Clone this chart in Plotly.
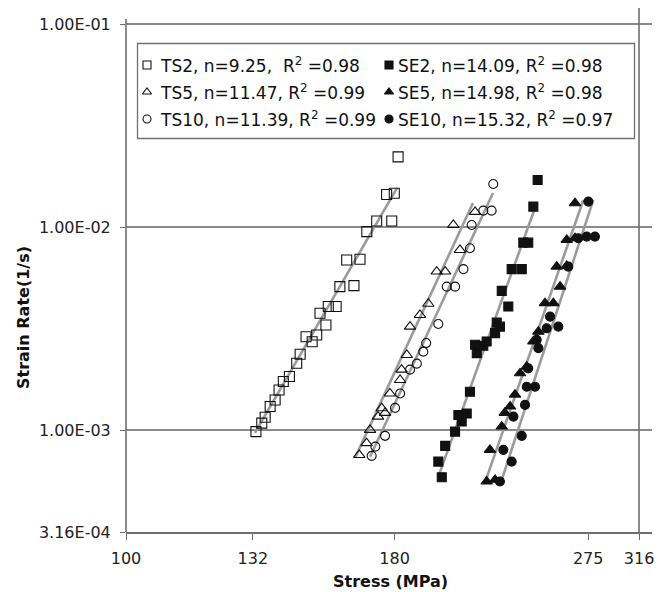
import plotly.graph_objects as go

# ---------------- data ----------------
ts2_stress = [132.9, 134.6, 135.6, 137.1, 138.6, 139.8, 141.1, 143.0, 145.3, 146.4, 148.3, 150.3,
              151.8, 154.9, 152.9, 155.7, 158.4, 159.7, 164.7, 162.1, 166.9, 169.4, 173.1, 178.9,
              176.9, 179.9, 181.4]
ts2_rate = [9.86e-4, 1.085e-3, 1.16e-3, 1.31e-3, 1.41e-3, 1.58e-3, 1.74e-3, 1.84e-3, 2.14e-3, 2.37e-3,
            2.89e-3, 2.73e-3, 2.95e-3, 3.30e-3, 3.77e-3, 4.07e-3, 4.07e-3, 5.10e-3, 5.16e-3, 6.90e-3,
            6.96e-3, 9.51e-3, 1.074e-2, 1.074e-2, 1.45e-2, 1.47e-2, 2.22e-2]

ts5_stress = [166.6, 169.3, 170.6, 173.6, 175.0, 176.3, 178.2, 182.2, 182.8, 184.9, 186.2, 190.3,
              193.8, 197.4, 201.1, 207.7, 204.7, 214.7]
ts5_rate = [7.57e-4, 8.65e-4, 1.006e-3, 1.169e-3, 1.286e-3, 1.22e-3, 1.52e-3, 1.77e-3, 1.99e-3,
            2.35e-3, 3.24e-3, 3.70e-3, 4.20e-3, 6.05e-3, 6.05e-3, 7.73e-3, 1.026e-2, 1.19e-2]

ts10_stress = [171.2, 172.6, 176.3, 180.2, 182.2, 186.2, 189.0, 191.7, 192.9, 198.1, 201.8, 205.5,
               209.3, 212.3, 213.1, 218.6, 222.6, 223.4]
ts10_rate = [7.49e-4, 8.32e-4, 9.40e-4, 1.29e-3, 1.52e-3, 1.99e-3, 2.13e-3, 2.44e-3, 2.69e-3,
             3.34e-3, 5.10e-3, 5.10e-3, 6.22e-3, 7.88e-3, 1.026e-2, 1.207e-2, 1.207e-2, 1.633e-2]

se2_stress = [199.6, 198.1, 201.1, 205.5, 208.5, 207.0, 210.8, 212.3, 215.5, 214.7, 218.6, 220.2,
              224.3, 225.1, 226.7, 230.9, 227.6, 232.6, 237.8, 238.6, 241.2, 243.9, 246.2]
se2_rate = [5.88e-4, 7.02e-4, 8.39e-4, 9.86e-4, 1.105e-3, 1.19e-3, 1.21e-3, 1.55e-3, 2.40e-3,
            2.64e-3, 2.61e-3, 2.74e-3, 3.01e-3, 3.39e-3, 3.24e-3, 4.07e-3, 4.86e-3, 6.22e-3,
            6.22e-3, 8.40e-3, 8.40e-3, 1.263e-2, 1.709e-2]

se5_stress = [220.2, 224.3, 221.8, 227.6, 229.1, 231.8, 234.3, 236.9, 240.4, 243.9, 246.6, 250.2,
              254.8, 258.6, 256.7, 262.4, 262.4, 267.2, 267.2]
se5_rate = [5.60e-4, 5.71e-4, 8.02e-4, 1.044e-3, 1.22e-3, 1.31e-3, 1.50e-3, 1.91e-3, 2.06e-3,
            2.74e-3, 3.06e-3, 4.23e-3, 4.23e-3, 5.10e-3, 6.40e-3, 6.45e-3, 8.66e-3, 8.83e-3, 1.313e-2]

se10_stress = [226.7, 232.6, 228.4, 237.8, 233.5, 239.5, 240.4, 244.8, 241.2, 246.6, 245.7, 251.1,
               257.6, 253.0, 263.3, 269.1, 274.1, 279.1, 275.1]
se10_rate = [5.60e-4, 7.02e-4, 8.02e-4, 9.40e-4, 1.169e-3, 1.335e-3, 1.64e-3, 1.64e-3, 2.02e-3,
             2.54e-3, 2.79e-3, 3.18e-3, 3.24e-3, 3.63e-3, 6.40e-3, 8.83e-3, 8.99e-3, 8.99e-3, 1.337e-2]

# power-law fit lines (end points)
fit_ts2_stress, fit_ts2_rate = [132.6, 181.0], [9.72e-4, 1.561e-2]
fit_ts5_stress, fit_ts5_rate = [165.1, 213.7], [7.32e-4, 1.317e-2]
fit_ts10_stress, fit_ts10_rate = [170.6, 223.3], [7.41e-4, 1.475e-2]
fit_se2_stress, fit_se2_rate = [198.1, 245.7], [5.92e-4, 1.313e-2]
fit_se5_stress, fit_se5_rate = [219.4, 272.1], [5.53e-4, 1.362e-2]
fit_se10_stress, fit_se10_rate = [227.6, 278.1], [5.71e-4, 1.362e-2]

legend_labels = [
    "TS2, n=9.25, \u00a0R<sup>2</sup> =0.98",
    "TS5, n=11.47, R<sup>2</sup> =0.99",
    "TS10, n=11.39, R<sup>2</sup> =0.99",
    "SE2, n=14.09, R<sup>2</sup> =0.98",
    "SE5, n=14.98, R<sup>2</sup> =0.98",
    "SE10, n=15.32, R<sup>2</sup> =0.97",
]

x_title = "Stress (MPa)"
y_title = "Strain Rate(1/s)"
x_tickvals = [100, 132, 180, 275, 307.4]
x_ticktext = ["100", "132", "180", "275", "316"]
y_tickvals = [3.16e-4, 1e-3, 1e-2, 1e-1]
y_ticktext = ["3.16E-04", "1.00E-03", "1.00E-02", "1.00E-01"]

# ---------------- figure ----------------
FONT = "DejaVu Sans"
LINE_GREY = "#9b9b9b"
AX_GREY = "#6e6e6e"
W, H = 670, 592
L, R, T, B = 126, 18, 8, 60
PW, PH = W - L - R, H - T - B


def paper_x(px):
    return (px - L) / PW


def paper_y(py):
    return (H - B - py) / PH


fig = go.Figure()

fits = [(fit_ts2_stress, fit_ts2_rate), (fit_ts5_stress, fit_ts5_rate), (fit_ts10_stress, fit_ts10_rate),
        (fit_se2_stress, fit_se2_rate), (fit_se5_stress, fit_se5_rate), (fit_se10_stress, fit_se10_rate)]
for fx, fy in fits:
    fig.add_trace(go.Scatter(x=fx, y=fy, mode="lines", line=dict(color=LINE_GREY, width=2.6),
                             showlegend=False, hoverinfo="skip"))

series = [
    (ts2_stress, ts2_rate, "square-open", 10),
    (ts5_stress, ts5_rate, "triangle-up-open", 10),
    (ts10_stress, ts10_rate, "circle-open", 9),
    (se2_stress, se2_rate, "square", 9),
    (se5_stress, se5_rate, "triangle-up", 10),
    (se10_stress, se10_rate, "circle", 9),
]
for sx, sy, sym, sz in series:
    fig.add_trace(go.Scatter(x=sx, y=sy, mode="markers",
                             marker=dict(symbol=sym, size=sz, color="#111111",
                                         line=dict(width=1.1, color="#111111")),
                             showlegend=False))

# overlay axes in pixel units for the hand-built legend
leg_sym = ["square-open", "triangle-up-open", "circle-open", "square", "triangle-up", "circle"]
leg_x = [147, 147, 147, 389, 389, 389]
leg_y = [65, 92, 119, 65, 92, 119]
txt_x = [158, 158, 158, 396, 396, 396]
fig.add_trace(go.Scatter(x=leg_x, y=leg_y, mode="markers", xaxis="x2", yaxis="y2",
                         marker=dict(symbol=leg_sym, size=8, color="#111111",
                                     line=dict(width=1.1, color="#111111")),
                         showlegend=False, hoverinfo="skip"))

annotations = []
for lab, tx, ty in zip(legend_labels, txt_x, leg_y):
    annotations.append(dict(x=paper_x(tx), y=paper_y(ty), xref="paper", yref="paper", text=lab,
                            showarrow=False, xanchor="left", yanchor="middle",
                            font=dict(family=FONT, size=17, color="#111111")))
annotations.append(dict(x=paper_x(24), y=paper_y(318), xref="paper", yref="paper",
                        text="<b>" + y_title + "</b>", textangle=-90, showarrow=False,
                        xanchor="center", yanchor="middle",
                        font=dict(family=FONT, size=16, color="#111111")))
annotations.append(dict(x=paper_x(390), y=paper_y(581), xref="paper", yref="paper",
                        text="<b>" + x_title + "</b>", showarrow=False,
                        xanchor="center", yanchor="middle",
                        font=dict(family=FONT, size=16, color="#111111")))

shapes = [
    dict(type="rect", xref="paper", yref="paper", x0=paper_x(137.5), x1=paper_x(634.5),
         y0=paper_y(138.5), y1=paper_y(43.5),
         line=dict(color="#707070", width=1.3), fillcolor="rgba(0,0,0,0)", layer="below"),
    dict(type="line", xref="paper", yref="paper", x0=paper_x(639), x1=paper_x(639), y0=0, y1=1,
         line=dict(color=AX_GREY, width=1.6)),
    dict(type="line", xref="paper", yref="paper", x0=0, x1=0, y0=0, y1=paper_y(19),
         line=dict(color=AX_GREY, width=1.6)),
]

fig.update_layout(
    width=W, height=H,
    margin=dict(l=L, r=R, t=T, b=B, pad=0),
    paper_bgcolor="white", plot_bgcolor="white",
    showlegend=False,
    xaxis=dict(type="log", range=[2, 2.5], tickmode="array", tickvals=x_tickvals,
               ticktext=x_ticktext, ticks="outside", ticklen=6, tickwidth=1.4, tickcolor=AX_GREY,
               showgrid=False, zeroline=False, showline=True, linecolor=AX_GREY, linewidth=1.6,
               tickfont=dict(family=FONT, size=16, color="#222222"), ticklabelstandoff=5),
    yaxis=dict(type="log", range=[-3.5003, -0.9208], tickmode="array", tickvals=y_tickvals,
               ticktext=y_ticktext, ticks="outside", ticklen=5, tickwidth=1.4, tickcolor=AX_GREY,
               showgrid=True, gridcolor="#8a8a8a", gridwidth=1.5, zeroline=False,
               showline=False,
               tickfont=dict(family=FONT, size=16, color="#222222"), ticklabelstandoff=6),
    xaxis2=dict(overlaying="x", range=[L, W - R], visible=False, anchor="y2", fixedrange=True),
    yaxis2=dict(overlaying="y", range=[H - B, T], visible=False, anchor="x2", fixedrange=True),
    annotations=annotations,
    shapes=shapes,
)

fig.write_html("out.html")
